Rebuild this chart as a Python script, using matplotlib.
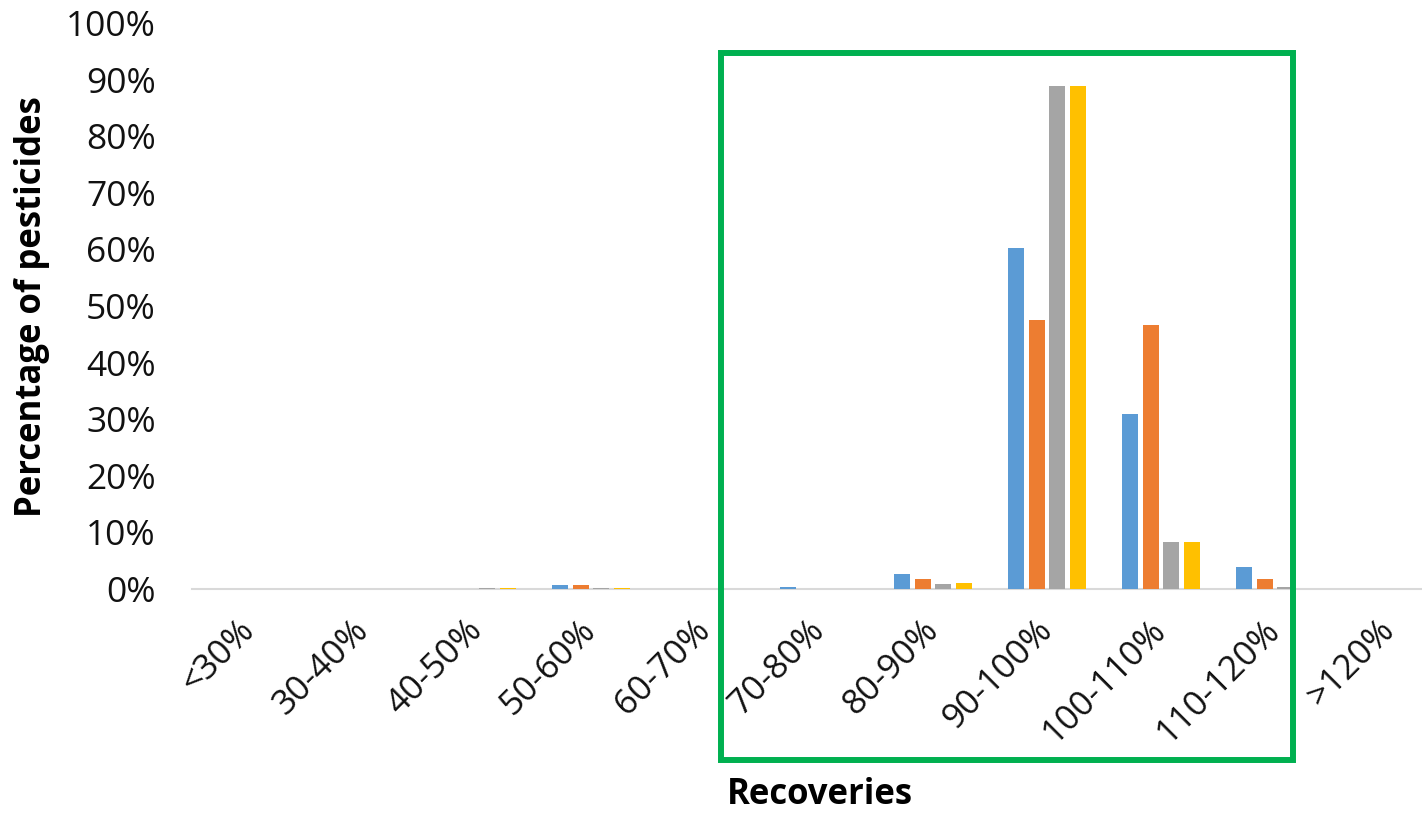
import numpy as np
import matplotlib.pyplot as plt
from matplotlib.patches import Rectangle

# Recovery bins and the share of pesticides falling in each, one list per series
categories = ["<30%", "30-40%", "40-50%", "50-60%", "60-70%", "70-80%",
              "80-90%", "90-100%", "100-110%", "110-120%", ">120%"]
series_1 = [0, 0, 0, 0.7, 0, 0.3, 2.6, 60.2, 31.0, 3.9, 0]
series_2 = [0, 0, 0, 0.7, 0, 0, 1.8, 47.6, 46.6, 1.8, 0]
series_3 = [0, 0, 0.2, 0.2, 0, 0, 0.8, 88.8, 8.3, 0.3, 0]
series_4 = [0, 0, 0.2, 0.2, 0, 0, 1.1, 88.8, 8.3, 0, 0]
yticks = list(range(0, 101, 10))

colors = ["#5B9BD5", "#ED7D31", "#A5A5A5", "#FFC000"]

plt.rcParams['font.family'] = ['Open Sans', 'DejaVu Sans']

fig = plt.figure(figsize=(14.22, 8.14), dpi=100)
W, H = 1422, 814
ax = fig.add_axes([192 / W, 1 - 589 / H, (W - 192) / W, (589 - 23) / H])

x = np.arange(len(categories))
step = 0.18
width = 0.14
for k, (vals, c) in enumerate(zip([series_1, series_2, series_3, series_4], colors)):
    ax.bar(x + (k - 1.5) * step, vals, width=width, color=c, zorder=3)

ax.set_xlim(-0.5, -0.5 + (W - 192) / 114)
ax.set_ylim(0, 100)
ax.set_yticks(yticks)
ax.set_yticklabels([f"{t}%" for t in yticks])
ax.set_xticks(x)
ax.set_xticklabels(categories, rotation=45, ha='right', va='center',
                   rotation_mode='anchor')
ax.tick_params(axis='y', length=0, pad=26, labelsize=25.5, labelcolor='#111111')
ax.tick_params(axis='x', length=0, pad=26, labelsize=25, labelcolor='#111111')

for s in ['top', 'right', 'left']:
    ax.spines[s].set_visible(False)
ax.spines['bottom'].set_color('#D9D9D9')
ax.spines['bottom'].set_linewidth(1.5)

fig.text(32 / W, 1 - 307 / H, "Percentage of pesticides", rotation=90,
         ha='center', va='center', fontsize=25, fontweight='bold')
fig.text(820 / W, 1 - 795 / H, "Recoveries", ha='center', va='center',
         fontsize=25, fontweight='bold')

# highlight box around the 70-120% bins
fig.patches.append(Rectangle((721 / W, 1 - 760 / H), (1293 - 721) / W,
                             (760 - 53) / H, transform=fig.transFigure,
                             fill=False, edgecolor='#00B050', linewidth=4.3,
                             zorder=10))

fig.savefig("out.png", dpi=100)
